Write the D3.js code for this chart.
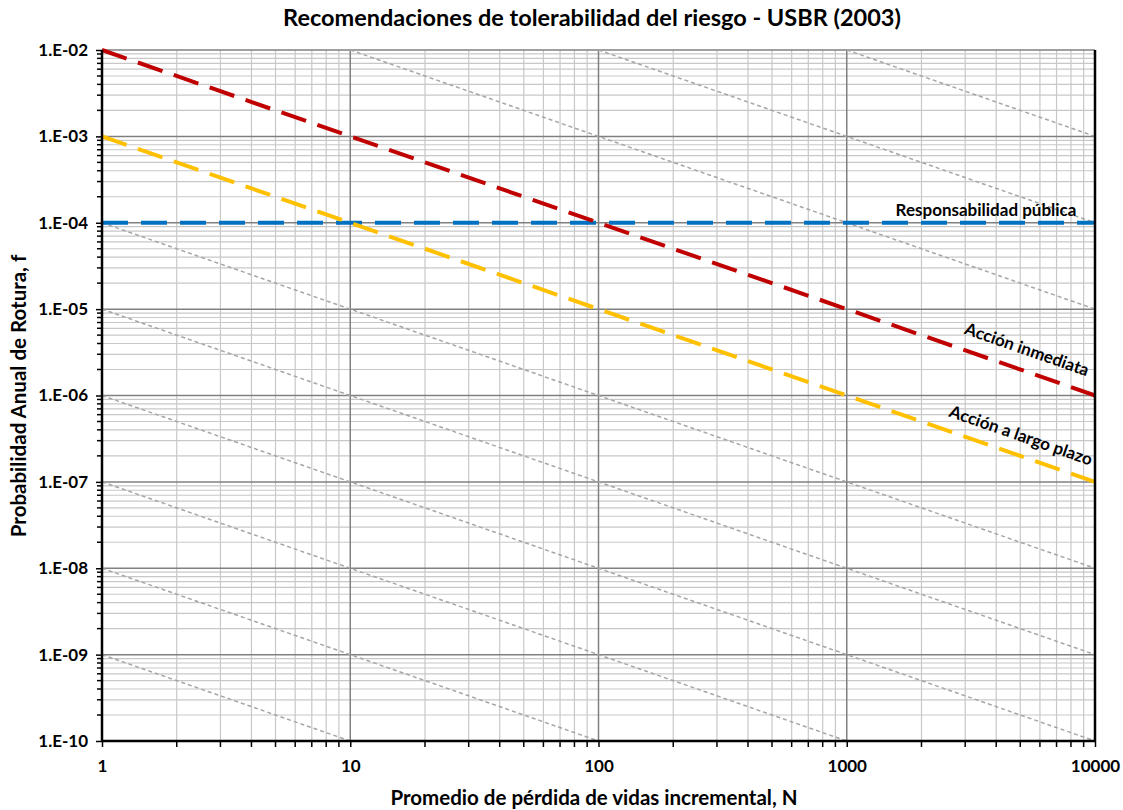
<!DOCTYPE html>
<html>
<head>
<meta charset="utf-8">
<script src="https://cdn.jsdelivr.net/npm/d3@7"></script>
<style>
  body { margin: 0; background: #fff; }
  text { font-family: Lato, "Noto Sans", sans-serif; font-weight: bold; fill: #000; }
</style>
</head>
<body>
<svg width="1123" height="810"></svg>
<script>
// ---- data ----
let xTicks = [1, 10, 100, 1000, 10000];
let yTicks = [1e-2, 1e-3, 1e-4, 1e-5, 1e-6, 1e-7, 1e-8, 1e-9, 1e-10];

// criteria lines (N, f)
let immediate = [[1, 1e-2], [10000, 1e-6]];
let longTerm = [[1, 1e-3], [10000, 1e-7]];
let publicResp = [[1, 1e-4], [10000, 1e-4]];

// gray iso-risk reference lines (N, f) endpoints
let guides = [
  [[1000, 1e-2], [10000, 1e-3]],
  [[100, 1e-2], [10000, 1e-4]],
  [[10, 1e-2], [10000, 1e-5]],
  [[1, 1e-4], [10000, 1e-8]],
  [[1, 1e-5], [10000, 1e-9]],
  [[1, 1e-6], [10000, 1e-10]],
  [[1, 1e-7], [1000, 1e-10]],
  [[1, 1e-8], [100, 1e-10]],
  [[1, 1e-9], [10, 1e-10]]
];

let svg = d3.select("svg"),
    width = +svg.attr("width"),
    height = +svg.attr("height");

let margin = {left: 102, right: 28, top: 50, bottom: 69};

let x = d3.scaleLog().domain([1, 10000]).range([margin.left, width - margin.right]);
let y = d3.scaleLog().domain([1e-10, 1e-2]).range([height - margin.bottom, margin.top]);

// minor positions
let xMinor = [], yMinor = [];
xTicks.slice(0, -1).forEach(d => { for (let k = 2; k <= 9; k++) xMinor.push(d * k); });
yTicks.slice(1).forEach(d => { for (let k = 2; k <= 9; k++) yMinor.push(d * k); });

// --------------- //
// GRID //
// --------------- //
let grid = svg.append("g");
grid.selectAll(".xmin").data(xMinor).enter().append("line")
    .attr("x1", d => x(d)).attr("x2", d => x(d))
    .attr("y1", y(1e-10)).attr("y2", y(1e-2))
    .attr("stroke", "#c8c8c8").attr("stroke-width", 1.2);
grid.selectAll(".ymin").data(yMinor).enter().append("line")
    .attr("y1", d => y(d)).attr("y2", d => y(d))
    .attr("x1", x(1)).attr("x2", x(10000))
    .attr("stroke", "#c8c8c8").attr("stroke-width", 1.2);
grid.selectAll(".xmaj").data(xTicks).enter().append("line")
    .attr("x1", d => x(d)).attr("x2", d => x(d))
    .attr("y1", y(1e-10)).attr("y2", y(1e-2))
    .attr("stroke", "#808080").attr("stroke-width", 1.5);
grid.selectAll(".ymaj").data(yTicks).enter().append("line")
    .attr("y1", d => y(d)).attr("y2", d => y(d))
    .attr("x1", x(1)).attr("x2", x(10000))
    .attr("stroke", "#808080").attr("stroke-width", 1.5);

// --------------- //
// LINES //
// --------------- //
let line = d3.line().x(d => x(d[0])).y(d => y(d[1]));

svg.append("g").selectAll("path").data(guides).enter().append("path")
    .attr("d", line)
    .attr("fill", "none")
    .attr("stroke", "#a6a6a6")
    .attr("stroke-width", 1.5)
    .attr("stroke-dasharray", "4,3");

svg.append("path").datum(publicResp).attr("d", line)
    .attr("fill", "none").attr("stroke", "#0070c0")
    .attr("stroke-width", 4).attr("stroke-dasharray", "26,13");
svg.append("path").datum(longTerm).attr("d", line)
    .attr("fill", "none").attr("stroke", "#ffc000")
    .attr("stroke-width", 4).attr("stroke-dasharray", "26,12");
svg.append("path").datum(immediate).attr("d", line)
    .attr("fill", "none").attr("stroke", "#c00000")
    .attr("stroke-width", 4).attr("stroke-dasharray", "26,12");

// --------------- //
// AXES //
// --------------- //
let fmt = d => "1.E-" + String(Math.round(-Math.log10(d))).padStart(2, "0");

let yAxis = svg.append("g").attr("transform", `translate(${x(1)},0)`);
yAxis.call(d3.axisLeft(y).tickValues(yTicks).tickFormat(fmt).tickSize(6).tickPadding(8));
yAxis.append("g").selectAll("line").data(yMinor).enter().append("line")
    .attr("x1", -5).attr("x2", 0).attr("y1", d => y(d)).attr("y2", d => y(d))
    .attr("stroke", "#000").attr("stroke-width", 1.5);

let xAxis = svg.append("g").attr("transform", `translate(0,${y(1e-10)})`);
xAxis.call(d3.axisBottom(x).tickValues(xTicks).tickFormat(d3.format("d")).tickSize(6).tickPadding(13));
xAxis.append("g").selectAll("line").data(xMinor).enter().append("line")
    .attr("y1", 0).attr("y2", 6).attr("x1", d => x(d)).attr("x2", d => x(d))
    .attr("stroke", "#000").attr("stroke-width", 1.5);

[yAxis, xAxis].forEach(a => {
  a.select(".domain").attr("stroke", "#000").attr("stroke-width", 2.5);
  a.selectAll(".tick line").attr("stroke", "#000").attr("stroke-width", 1.5);
  a.selectAll(".tick text").style("font-size", "17px").style("font-family", "Lato").style("font-weight", "bold");
});
yAxis.select(".domain").attr("d", `M0,${y(1e-10)}V${y(1e-2)}`);
xAxis.select(".domain").attr("d", `M${x(1)},0H${x(10000)}`);

// right border
svg.append("line")
    .attr("x1", x(10000)).attr("x2", x(10000))
    .attr("y1", y(1e-2)).attr("y2", y(1e-10))
    .attr("stroke", "#000").attr("stroke-width", 2.5);

// --------------- //
// LABELS //
// --------------- //
let angle = Math.atan2(y(1e-3) - y(1e-2), x(10) - x(1)) * 180 / Math.PI;

svg.append("text")
    .attr("x", 986).attr("y", 216)
    .attr("text-anchor", "middle")
    .style("font-size", "17px")
    .text("Responsabilidad pública");

svg.append("text")
    .attr("transform", `translate(1025,355) rotate(${angle})`)
    .attr("text-anchor", "middle")
    .style("font-size", "17px")
    .text("Acción inmediata");

svg.append("text")
    .attr("transform", `translate(1019,441) rotate(${angle})`)
    .attr("text-anchor", "middle")
    .style("font-size", "17px")
    .text("Acción a largo plazo");

svg.append("text")
    .attr("x", 592).attr("y", 26)
    .attr("text-anchor", "middle")
    .style("font-size", "23.5px")
    .text("Recomendaciones de tolerabilidad del riesgo - USBR (2003)");

svg.append("text")
    .attr("x", 594).attr("y", 805)
    .attr("text-anchor", "middle")
    .style("font-size", "20.5px")
    .text("Promedio de pérdida de vidas incremental, N");

svg.append("text")
    .attr("transform", "translate(26,396) rotate(-90)")
    .attr("text-anchor", "middle")
    .style("font-size", "20.5px")
    .text("Probabilidad Anual de Rotura, f");
</script>
</body>
</html>
